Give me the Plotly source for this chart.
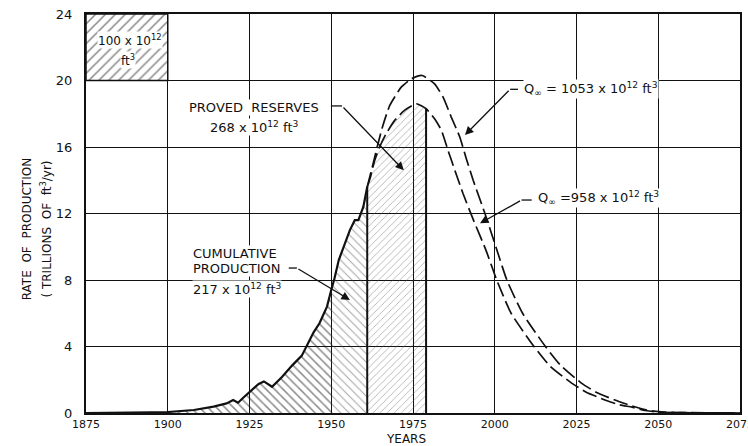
import plotly.graph_objects as go

# Annual U.S. natural gas production, 1875-1961 (trillions of ft^3 per year)
prod_years = [1875, 1885, 1890, 1895, 1900, 1904, 1908, 1914, 1918, 1920, 1921.5, 1923,
              1925, 1927.8, 1929.4, 1931.9, 1935, 1938, 1941, 1942.6, 1944.6, 1946.4,
              1948.7, 1950, 1951, 1952.3, 1953.8, 1955.7, 1957.2, 1958.3, 1959.8,
              1960.8, 1961]
prod_rate = [0, 0, 0.02, 0.04, 0.06, 0.1, 0.18, 0.38, 0.58, 0.78, 0.62, 0.9,
             1.25, 1.75, 1.9, 1.58, 2.18, 2.85, 3.45, 4.1, 4.85, 5.4,
             6.4, 7.4, 8.1, 9.2, 10.0, 11.0, 11.6, 11.6, 12.4,
             13.4, 13.6]

# Projected complete cycle, Q_inf = 1053 x 10^12 ft^3
high_years = [1961, 1962.8, 1964.3, 1965.8, 1967.9, 1971.4, 1974.5, 1977.8, 1981.6,
              1984.2, 1986.7, 1989.3, 1991.3, 1993.4, 1997, 2000.5, 2003.7, 2008.5,
              2015.5, 2020, 2026.5, 2031, 2036.5, 2042, 2047, 2052, 2075]
high_rate = [13.6, 15.0, 16.2, 17.3, 18.5, 19.6, 20.1, 20.3, 19.8,
             19.0, 17.8, 16.6, 15.3, 14.0, 12.0, 9.9, 8.0, 6.0,
             4.0, 2.9, 1.8, 1.25, 0.8, 0.42, 0.15, 0.05, 0]

# Projected complete cycle, Q_inf = 958 x 10^12 ft^3
low_years = [1961, 1962, 1963.3, 1964.8, 1966.8, 1969.4, 1972.4, 1976, 1979, 1981.6,
             1983.7, 1985.7, 1987.8, 1990.3, 1993.5, 1997.3, 2000.6, 2005, 2012,
             2017, 2023.5, 2028, 2033.5, 2038, 2042, 2046, 2050, 2075]
low_rate = [13.6, 14.2, 15.2, 16.0, 16.8, 17.6, 18.2, 18.6, 18.3, 17.7,
            17.0, 15.8, 14.6, 13.2, 11.6, 9.8, 8.0, 6.0, 4.0,
            2.8, 1.8, 1.25, 0.8, 0.5, 0.35, 0.15, 0.05, 0]

# Proved reserves are shaded from the end of production data to this year
reserves_end = 1979

# Scale key: 25 years x 4 trillion ft^3/yr = 100 x 10^12 ft^3
key_years = [1875, 1900]
key_rate = [20, 24]

x_ticks = [1875, 1900, 1925, 1950, 1975, 2000, 2025, 2050, 2075]
y_ticks = [0, 4, 8, 12, 16, 20, 24]

FONT = "DejaVu Sans"
INK = "#111111"

fig = go.Figure()

# Cumulative production, split at 1950 where the hatching changes density
split = 1950
early = [(x, y) for x, y in zip(prod_years, prod_rate) if x <= split]
late = [(x, y) for x, y in zip(prod_years, prod_rate) if x >= split]
fig.add_trace(go.Scatter(
    x=[p[0] for p in early], y=[p[1] for p in early], mode="lines",
    line=dict(width=0), fill="tozeroy", fillcolor="rgba(0,0,0,0)",
    fillpattern=dict(shape="\\", fgcolor=INK, bgcolor="rgba(0,0,0,0)",
                     size=6, solidity=0.25)))
fig.add_trace(go.Scatter(
    x=[p[0] for p in late], y=[p[1] for p in late], mode="lines",
    line=dict(width=0), fill="tozeroy", fillcolor="rgba(0,0,0,0)",
    fillpattern=dict(shape="\\", fgcolor="#444444", bgcolor="rgba(0,0,0,0)",
                     size=6, solidity=0.16)))

# Proved reserves under the lower projection
res = [(x, y) for x, y in zip(low_years, low_rate) if x <= reserves_end]
fig.add_trace(go.Scatter(
    x=[p[0] for p in res], y=[p[1] for p in res], mode="lines",
    line=dict(width=0), fill="tozeroy", fillcolor="rgba(0,0,0,0)",
    fillpattern=dict(shape="/", fgcolor="#555555", bgcolor="rgba(0,0,0,0)",
                     size=5, solidity=0.16)))

# Vertical boundaries of the shaded areas
fig.add_trace(go.Scatter(x=[prod_years[-1], prod_years[-1]], y=[0, prod_rate[-1]],
                         mode="lines", line=dict(color=INK, width=2)))
fig.add_trace(go.Scatter(x=[res[-1][0], res[-1][0]], y=[0, res[-1][1]],
                         mode="lines", line=dict(color=INK, width=2)))

# Projection curves
fig.add_trace(go.Scatter(x=high_years, y=high_rate, mode="lines",
                         line=dict(color=INK, width=1.7, dash="15px,5px",
                                   shape="spline", smoothing=0.5)))
fig.add_trace(go.Scatter(x=low_years, y=low_rate, mode="lines",
                         line=dict(color=INK, width=1.7, dash="15px,5px",
                                   shape="spline", smoothing=0.5)))

# Production history
fig.add_trace(go.Scatter(x=prod_years, y=prod_rate, mode="lines",
                         line=dict(color=INK, width=2.2)))

# Scale key box
fig.add_trace(go.Scatter(
    x=[key_years[0], key_years[1], key_years[1], key_years[0], key_years[0]],
    y=[key_rate[0], key_rate[0], key_rate[1], key_rate[1], key_rate[0]],
    mode="lines", line=dict(color=INK, width=1.5), fill="toself",
    fillcolor="rgba(0,0,0,0)",
    fillpattern=dict(shape="/", fgcolor=INK, bgcolor="rgba(0,0,0,0)",
                     size=7, solidity=0.22)))

annotations = []


def label(text, x, y, size=13, xanchor="center", bg="white"):
    annotations.append(dict(text=text, x=x, y=y, xref="x", yref="y",
                            showarrow=False, xanchor=xanchor, yanchor="middle",
                            font=dict(family=FONT, size=size, color=INK),
                            bgcolor=bg, borderpad=0))


def leader(x0, x1, y, tip_x, tip_y):
    fig.add_shape(type="line", xref="x", yref="y", x0=x0, x1=x1, y0=y, y1=y,
                  line=dict(color=INK, width=1.3))
    annotations.append(dict(text="", x=tip_x, y=tip_y, ax=x1, ay=y,
                            xref="x", yref="y", axref="x", ayref="y",
                            showarrow=True, arrowhead=2, arrowsize=1.3,
                            arrowwidth=1.3, arrowcolor=INK))


label("100 x 10<sup>12</sup>", 1888.6, 22.45, size=12)
label("ft<sup>3</sup>", 1887.7, 21.25, size=12)

label("PROVED\u00a0 RESERVES", 1926.4, 18.4)
label("268 x 10<sup>12</sup> ft<sup>3</sup>", 1926.4, 17.2)
leader(1949.9, 1953.3, 18.47, 1972.2, 14.6)

label("CUMULATIVE", 1907.5, 9.62, xanchor="left")
label("PRODUCTION", 1907.5, 8.72, xanchor="left")
label("217 x 10<sup>12</sup> ft<sup>3</sup>", 1907.5, 7.46, xanchor="left")
leader(1937.0, 1939.5, 8.72, 1955.7, 6.8)

label("Q<sub>\u221e</sub> = 1053 x 10<sup>12</sup> ft<sup>3</sup>", 2008.6, 19.47,
      xanchor="left")
leader(2007.1, 2004.7, 19.47, 1990.9, 16.72)

label("Q<sub>\u221e</sub> =958 x 10<sup>12</sup> ft<sup>3</sup>", 2012.9, 12.93,
      xanchor="left")
leader(2011.3, 2008.2, 12.81, 1995.5, 11.41)

# Axis titles
annotations.append(dict(text="YEARS", x=0.49, y=-0.064, xref="paper", yref="paper",
                        xanchor="center", yanchor="middle", showarrow=False,
                        font=dict(family=FONT, size=12, color=INK)))
annotations.append(dict(text="RATE\u00a0 OF\u00a0 PRODUCTION", x=-0.089, y=0.46,
                        xref="paper", yref="paper", textangle=-90, showarrow=False,
                        xanchor="center", yanchor="middle",
                        font=dict(family=FONT, size=12, color=INK)))
annotations.append(dict(text="( TRILLIONS\u00a0 OF\u00a0 ft<sup>3</sup>/yr)", x=-0.061, y=0.46,
                        xref="paper", yref="paper", textangle=-90, showarrow=False,
                        xanchor="center", yanchor="middle",
                        font=dict(family=FONT, size=12, color=INK)))

fig.update_layout(
    width=748, height=446,
    margin=dict(l=86, r=8, t=14, b=33, autoexpand=False),
    paper_bgcolor="white", plot_bgcolor="white",
    showlegend=False, hovermode=False,
    annotations=annotations,
    font=dict(family=FONT, color=INK),
)
fig.update_xaxes(range=[1875, 2075], tickvals=x_ticks, ticks="",
                 showgrid=True, gridcolor=INK, gridwidth=1,
                 showline=True, linecolor=INK, linewidth=2, mirror=True,
                 zeroline=False, ticklabelstandoff=0, ticklabeloverflow="allow",
                 automargin=False,
                 tickfont=dict(family=FONT, size=11, color=INK))
fig.update_yaxes(range=[0, 24], tickvals=y_ticks, ticks="",
                 showgrid=True, gridcolor=INK, gridwidth=1,
                 showline=True, linecolor=INK, linewidth=2, mirror=True,
                 zeroline=False, ticklabelstandoff=9, automargin=False,
                 tickfont=dict(family=FONT, size=13, color=INK))

fig.write_html("out.html")
